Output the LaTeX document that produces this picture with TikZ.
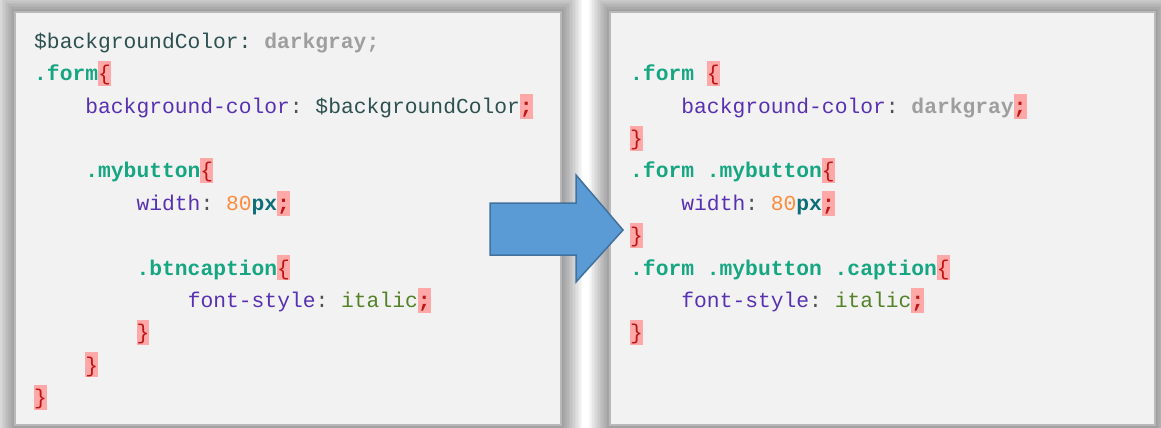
\documentclass[tikz,border=0pt]{standalone}
\usepackage{fontspec}
\setmonofont{Liberation Mono}

\definecolor{panelfill}{RGB}{242,242,242}
\definecolor{panelline}{RGB}{185,185,185}
\definecolor{hlpink}{RGB}{255,168,168}
\definecolor{bracecol}{RGB}{190,20,20}
\definecolor{selcol}{RGB}{22,166,130}
\definecolor{propcol}{RGB}{88,48,178}
\definecolor{colcol}{RGB}{80,80,80}
\definecolor{varcol}{RGB}{45,80,80}
\definecolor{grycol}{RGB}{158,158,158}
\definecolor{numcol}{RGB}{255,140,60}
\definecolor{unitcol}{RGB}{14,110,120}
\definecolor{itcol}{RGB}{84,130,40}
\definecolor{arrowfill}{RGB}{91,155,213}
\definecolor{arrowline}{RGB}{65,113,156}

% token colouring
\newcommand\hlmark[1]{{\setlength{\fboxsep}{0pt}\colorbox{hlpink}{\rule[-5.3pt]{0pt}{25pt}\textcolor{bracecol}{#1}}}}
\newcommand\csel[1]{\textcolor{selcol}{\textbf{#1}}}
\newcommand\cprop[1]{\textcolor{propcol}{#1}\textcolor{colcol}{:}}
\newcommand\cvar[1]{\textcolor{varcol}{#1}}
\newcommand\cgray[1]{\textcolor{grycol}{\textbf{#1}}}
\newcommand\cnum[1]{\textcolor{numcol}{#1}}
\newcommand\cunit[1]{\textcolor{unitcol}{\textbf{#1}}}
\newcommand\cital[1]{\textcolor{itcol}{#1}}

\begin{document}
\begin{tikzpicture}[x=1pt, y=-1pt,
    panel/.style={draw=panelline, line width=1.5pt, fill=panelfill, inner sep=0pt},
    codeline/.style={anchor=base west, inner sep=0pt, font=\ttfamily\fontsize{21.3}{25}\selectfont}]
    \useasboundingbox[fill=white] (0, 0) rectangle (1161, 428);
    % soft glow round both panels
    \foreach \xa/\xb in {15/561, 610/1155}{
        \foreach \d in {1,...,14}{
            \fill[black, opacity=0.03] (\xa - 1.5*\d, 12 - 1.5*\d) rectangle (\xb + 1.5*\d, 425 + 1.5*\d);
        }
    }
    \node[panel, minimum width=546pt, minimum height=413pt] (before) at (288, 218.5) {};
    \node[panel, minimum width=545pt, minimum height=413pt] (after) at (882.5, 218.5) {};
    % SCSS source, left panel
    \foreach \n/\x/\t in {1/34/{\cvar{\$backgroundColor: }\cgray{darkgray;}},
                          2/34/{\csel{.form}\hlmark{\{}},
                          3/85.2/{\cprop{background-color} \cvar{\$backgroundColor}\hlmark{\textbf{;}}},
                          5/85.2/{\csel{.mybutton}\hlmark{\{}},
                          6/136.4/{\cprop{width} \cnum{80}\cunit{px}\hlmark{\textbf{;}}},
                          8/136.4/{\csel{.btncaption}\hlmark{\{}},
                          9/187.6/{\cprop{font-style} \cital{italic}\hlmark{\textbf{;}}},
                          10/136.4/{\hlmark{\}}},
                          11/85.2/{\hlmark{\}}},
                          12/34/{\hlmark{\}}}}{
        \node[codeline] (src\n) at (\x, {48.5 + 32.36*(\n - 1)}) {\t};
    }
    % compiled CSS, right panel
    \foreach \n/\x/\t in {2/630/{\csel{.form} \hlmark{\{}},
                          3/681.2/{\cprop{background-color} \cgray{darkgray}\hlmark{\textbf{;}}},
                          4/630/{\hlmark{\}}},
                          5/630/{\csel{.form .mybutton}\hlmark{\{}},
                          6/681.2/{\cprop{width} \cnum{80}\cunit{px}\hlmark{\textbf{;}}},
                          7/630/{\hlmark{\}}},
                          8/630/{\csel{.form .mybutton .caption}\hlmark{\{}},
                          9/681.2/{\cprop{font-style} \cital{italic}\hlmark{\textbf{;}}},
                          10/630/{\hlmark{\}}}}{
        \node[codeline] (out\n) at (\x, {48.5 + 32.36*(\n - 1)}) {\t};
    }
    \draw[fill=arrowfill, draw=arrowline, line width=1.5pt, line join=miter]
        (490, 203) -- (576, 203) -- (576, 175) -- (623, 230) -- (576, 282) -- (576, 255) -- (490, 255) -- cycle;
\end{tikzpicture}
\end{document}
